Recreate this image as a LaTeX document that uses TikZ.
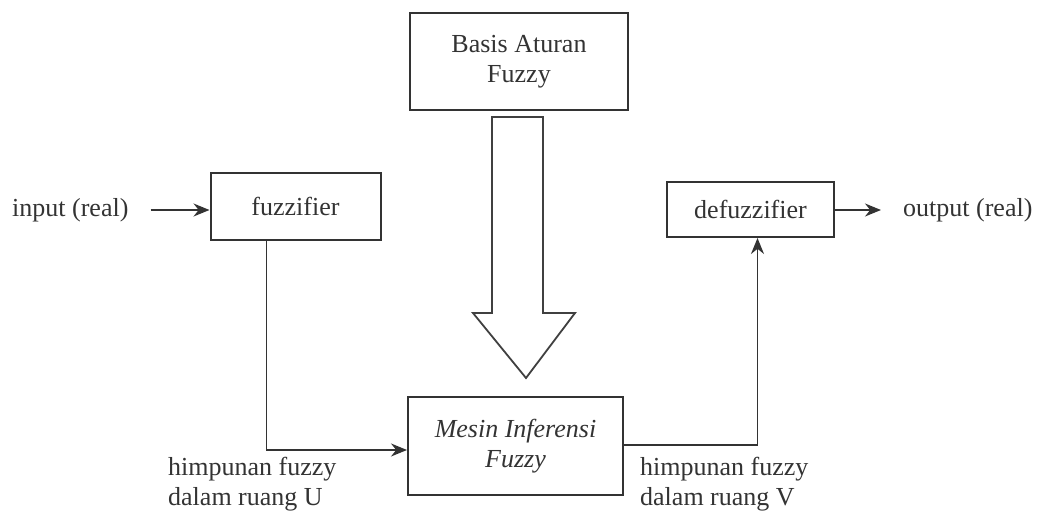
\documentclass[tikz,border=0pt]{standalone}
\usepackage{fontspec}
\setmainfont{Liberation Serif}
\usetikzlibrary{arrows.meta,calc}
\begin{document}
\begin{tikzpicture}[x=1pt,y=-1pt,
  every node/.style={font=\fontsize{26}{30}\selectfont, text=black!80},
  blok/.style={draw=black!80, line width=2pt, inner sep=0pt, align=center},
  lbl/.style={inner sep=0pt, align=left},
  conn/.style={draw=black!80, line width=1.8pt},
  arr/.style={conn, -{Stealth[length=16pt,width=13pt]}}]
\useasboundingbox (0,0) rectangle (1037,516);
\node[blok, minimum width=218pt, minimum height=97pt] (basis) at (519,61.5) {Basis Aturan\\Fuzzy};
\node[blok, minimum width=170pt, minimum height=67pt] (fuzz) at (295.5,206.5) {fuzzifier};
\node[blok, minimum width=167pt, minimum height=55pt] (defuzz) at (750.5,209.5) {defuzzifier};
\node[blok, minimum width=215pt, minimum height=98pt, font=\fontsize{26}{30}\selectfont\itshape] (mesin) at (515.5,446) {Mesin Inferensi\\Fuzzy};
\node[lbl, anchor=west] (inp) at (12,210) {input (real)};
\node[lbl, anchor=west] (outp) at (903,210) {output (real)};
\node[lbl, anchor=north west] (hu) at (168,457) {himpunan fuzzy\\dalam ruang U};
\node[lbl, anchor=north west] (hv) at (640,457) {himpunan fuzzy\\dalam ruang V};
\draw[arr, shorten <=22pt] (inp.east) -- (fuzz.west |- inp.east);
\draw[arr, shorten >=22pt] (defuzz.east |- outp.west) -- (outp.west);
\draw[arr] ([xshift=57pt]fuzz.south west) |- ([yshift=-4pt]mesin.west);
\draw[arr] ([yshift=1pt]mesin.east) -| ([xshift=7pt]defuzz.south);
\draw[draw=black!75, line width=1.8pt, line join=miter]
  (492,117) -- (543,117) -- (543,313) -- (575,313) -- (526,378)
  -- (473,313) -- (492,313) -- cycle;
\end{tikzpicture}
\end{document}
